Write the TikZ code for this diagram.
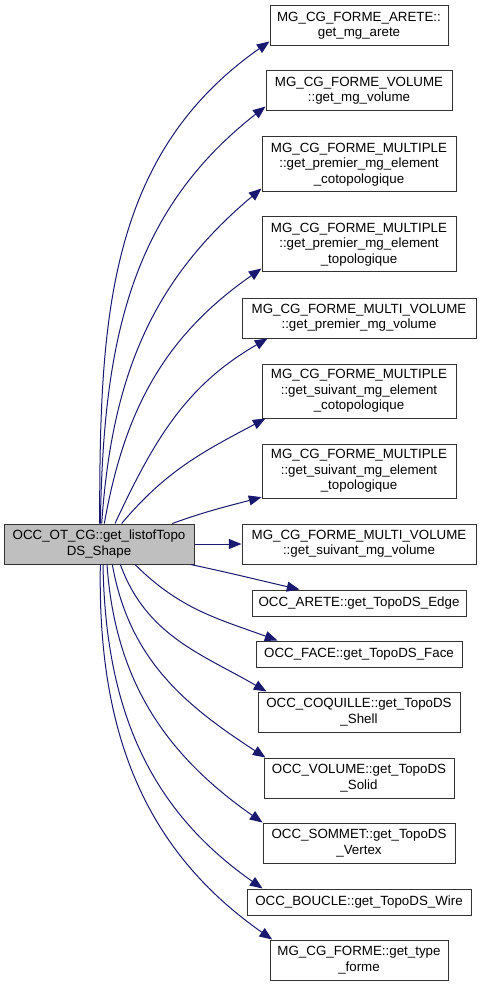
\documentclass[tikz,border=0pt]{standalone}
\usepackage{fontspec}
\setmainfont{Liberation Sans}
\usetikzlibrary{arrows.meta}
\definecolor{callblue}{RGB}{25,25,112}

\begin{document}
\begin{tikzpicture}[x=0.75pt,y=0.75pt,
  fn/.style={draw=black!80, rectangle, align=center, inner sep=0pt, line width=0.75pt,
    font=\fontsize{10}{11.5}\selectfont},
  call/.style={draw=callblue, line width=0.75pt, -{Triangle[length=9.5pt,width=7.5pt,fill=callblue]}}]
\useasboundingbox (0,0) rectangle (481,-987);

\node[fn, fill=black!25, minimum width=142.5pt, minimum height=30pt] (main) at (99,-544) {OCC\_OT\_CG::get\_listofTopo\\DS\_Shape};

\node[fn, minimum width=133.5pt, minimum height=30pt] (arete) at (359,-26) {MG\_CG\_FORME\_ARETE::\\get\_mg\_arete};
\node[fn, minimum width=139.5pt, minimum height=30pt] (volume) at (359,-91) {MG\_CG\_FORME\_VOLUME\\::get\_mg\_volume};
\node[fn, minimum width=145.5pt, minimum height=41.25pt] (pcoto) at (359,-164.5) {MG\_CG\_FORME\_MULTIPLE\\::get\_premier\_mg\_element\\\_cotopologique};
\node[fn, minimum width=145.5pt, minimum height=41.25pt] (ptopo) at (359,-244.5) {MG\_CG\_FORME\_MULTIPLE\\::get\_premier\_mg\_element\\\_topologique};
\node[fn, minimum width=175.5pt, minimum height=30pt] (pmvol) at (359,-318) {MG\_CG\_FORME\_MULTI\_VOLUME\\::get\_premier\_mg\_volume};
\node[fn, minimum width=145.5pt, minimum height=40.5pt] (scoto) at (359,-391) {MG\_CG\_FORME\_MULTIPLE\\::get\_suivant\_mg\_element\\\_cotopologique};
\node[fn, minimum width=145.5pt, minimum height=40.5pt] (stopo) at (359,-471) {MG\_CG\_FORME\_MULTIPLE\\::get\_suivant\_mg\_element\\\_topologique};
\node[fn, minimum width=175.5pt, minimum height=30pt] (smvol) at (359,-544) {MG\_CG\_FORME\_MULTI\_VOLUME\\::get\_suivant\_mg\_volume};
\node[fn, minimum width=160.5pt, minimum height=19.5pt] (edge) at (359,-603) {OCC\_ARETE::get\_TopoDS\_Edge};
\node[fn, minimum width=154.5pt, minimum height=19.5pt] (face) at (359,-654) {OCC\_FACE::get\_TopoDS\_Face};
\node[fn, minimum width=151.5pt, minimum height=30pt] (shell) at (359,-712) {OCC\_COQUILLE::get\_TopoDS\\\_Shell};
\node[fn, minimum width=142.5pt, minimum height=30pt] (solid) at (359,-778) {OCC\_VOLUME::get\_TopoDS\\\_Solid};
\node[fn, minimum width=144pt, minimum height=30pt] (vertex) at (359,-843) {OCC\_SOMMET::get\_TopoDS\\\_Vertex};
\node[fn, minimum width=168pt, minimum height=19.5pt] (wire) at (359,-902) {OCC\_BOUCLE::get\_TopoDS\_Wire};
\node[fn, minimum width=133.5pt, minimum height=30pt] (type) at (359,-960) {MG\_CG\_FORME::get\_type\\\_forme};

\draw[call] ([xshift=0.5pt]main.north) to[out=90,in=215] ([yshift=3.75pt]arete.south west);
\draw[call] ([xshift=1pt]main.north) to[out=89,in=218] ([yshift=3.75pt]volume.south west);
\draw[call] ([xshift=2pt]main.north) to[out=86,in=220] ([yshift=3pt]pcoto.south west);
\draw[call] ([xshift=4pt]main.north) to[out=80,in=215] ([yshift=3pt]ptopo.south west);
\draw[call] ([xshift=12pt]main.north) to[out=65,in=210] ([xshift=19.5pt]pmvol.south west);
\draw[call] ([xshift=17pt]main.north) to[out=50,in=208] ([xshift=3pt]scoto.south west);
\draw[call] ([xshift=55pt]main.north) to[out=20,in=195] ([yshift=1pt]stopo.south west);
\draw[call] (main.east) -- (smvol.west);
\draw[call] ([xshift=-3pt]main.south east) to[out=-12,in=167] ([xshift=36pt]edge.north west);
\draw[call] ([xshift=27pt]main.south) to[out=-45,in=160] ([xshift=16.5pt]face.north west);
\draw[call] ([xshift=16pt]main.south) to[out=-70,in=150] ([xshift=6.75pt]shell.north west);
\draw[call] ([xshift=10pt]main.south) to[out=-80,in=147] ([xshift=1.5pt]solid.north west);
\draw[call] ([xshift=6pt]main.south) to[out=-86,in=145] ([xshift=0pt]vertex.north west);
\draw[call] ([xshift=3pt]main.south) to[out=-89,in=145] ([xshift=12pt]wire.north west);
\draw[call] ([xshift=1pt]main.south) to[out=-91,in=145] ([xshift=2pt]type.north west);
\end{tikzpicture}
\end{document}
